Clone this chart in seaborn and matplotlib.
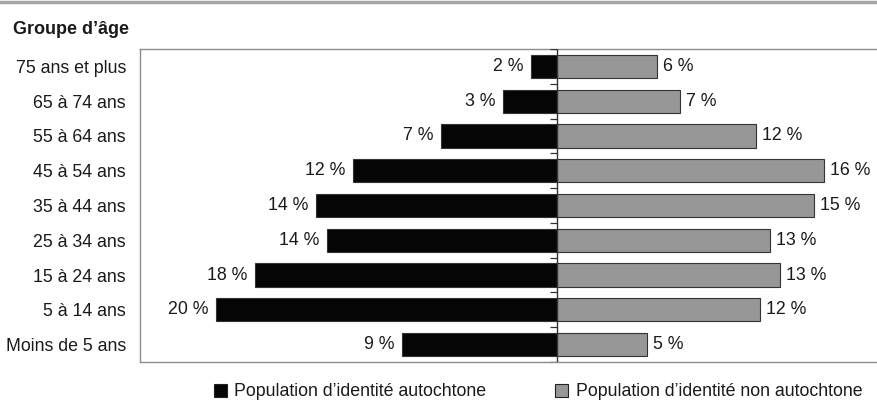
import matplotlib
matplotlib.use("Agg")
import matplotlib.pyplot as plt
from matplotlib.patches import Patch
import seaborn as sns
import pandas as pd

age_groups = ["75 ans et plus", "65 à 74 ans", "55 à 64 ans", "45 à 54 ans",
              "35 à 44 ans", "25 à 34 ans", "15 à 24 ans", "5 à 14 ans", "Moins de 5 ans"]
autochtone = [1.55, 3.2, 6.9, 12.1, 14.3, 13.6, 17.9, 20.2, 9.2]
non_autochtone = [5.9, 7.3, 11.8, 15.8, 15.2, 12.6, 13.2, 12.0, 5.3]
series_names = ["Population d’identité autochtone", "Population d’identité non autochtone"]
colors = ["#050505", "#979797"]

sns.set_theme(style="white")
plt.rcParams['font.family'] = ['Liberation Sans', 'DejaVu Sans']

FS = 12.8

df = pd.DataFrame({
    "age": age_groups * 2,
    "val": [-v for v in autochtone] + list(non_autochtone),
    "serie": [series_names[0]] * len(age_groups) + [series_names[1]] * len(age_groups),
})

fig = plt.figure(figsize=(8.78, 4.05), dpi=100)
ax = fig.add_axes([140 / 878, 1 - 362 / 405, 1 - 140 / 878, (362 - 49) / 405])

sns.barplot(data=df, y="age", x="val", hue="serie", order=age_groups,
            hue_order=series_names, palette=colors, dodge=False, width=0.67,
            edgecolor="#333333", linewidth=0.8, legend=False, ax=ax)

ax.set_xlim(-24.7, 19.0)
ax.set_ylim(len(age_groups) - 0.5, -0.5)
ax.set_xlabel("")
ax.set_ylabel("")
ax.set_xticks([])
ax.tick_params(axis="y", length=0, pad=10, labelsize=FS, labelcolor="#1a1a1a")

for s in ax.spines.values():
    s.set_color("#8c8c8c")
    s.set_linewidth(1.0)
    s.set_visible(True)

# centre axis line with boundary ticks
ax.axvline(0, color="#333333", linewidth=1.0, zorder=5)
for i in range(len(age_groups) + 1):
    ax.hlines(i - 0.5, -0.42, 0, color="#333333", linewidth=0.9, zorder=5)

# value labels
for i, (a, b) in enumerate(zip(autochtone, non_autochtone)):
    ax.text(-a - 0.45, i, f"{int(a + 0.5)} %", ha="right", va="center",
            fontsize=FS, color="#1a1a1a")
    ax.text(b + 0.35, i, f"{int(b + 0.5)} %", ha="left", va="center",
            fontsize=FS, color="#1a1a1a")

fig.text(13 / 878, 1 - 29 / 405, "Groupe d’âge", ha="left", va="center",
         fontsize=13, fontweight="bold", color="#1a1a1a")

# top banner line
fig.add_artist(plt.Line2D([0, 1], [1 - 1.5 / 405, 1 - 1.5 / 405], color="#a6a6a6",
                          linewidth=2.5, transform=fig.transFigure))

handles = [Patch(facecolor=colors[0], edgecolor="#222222", linewidth=0.8),
           Patch(facecolor=colors[1], edgecolor="#222222", linewidth=0.8)]
fig.legend(handles, series_names, loc="center left", bbox_to_anchor=(205 / 878, 1 - 392 / 405),
           ncol=2, frameon=False, fontsize=FS, handlelength=0.73, handleheight=0.73,
           handletextpad=0.4, columnspacing=3.9, borderpad=0, labelcolor="#1a1a1a")

fig.savefig("out.png", dpi=100)
